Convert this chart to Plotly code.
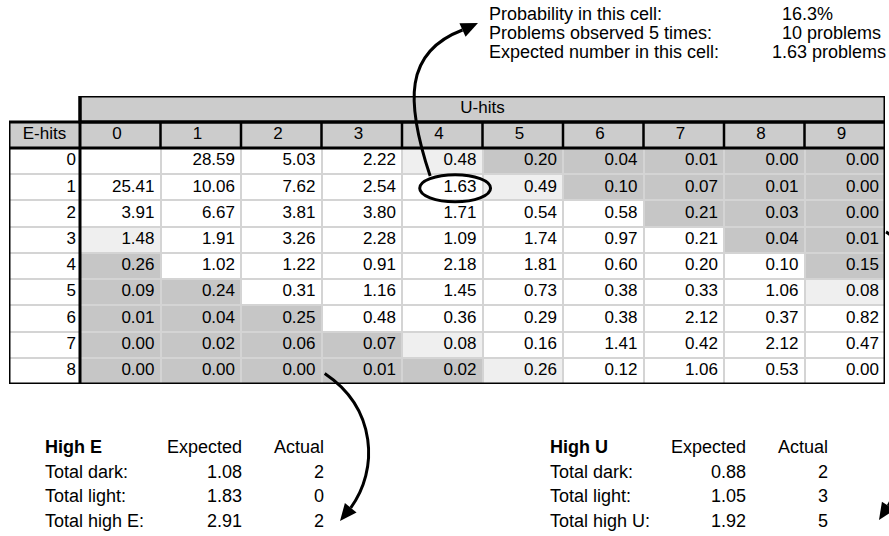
import math
import plotly.graph_objects as go

# ---------------- data ----------------
u_hits = [0, 1, 2, 3, 4, 5, 6, 7, 8, 9]
e_hits = [0, 1, 2, 3, 4, 5, 6, 7, 8]

expected_counts = [
    [None, 28.59, 5.03, 2.22, 0.48, 0.20, 0.04, 0.01, 0.00, 0.00],
    [25.41, 10.06, 7.62, 2.54, 1.63, 0.49, 0.10, 0.07, 0.01, 0.00],
    [3.91, 6.67, 3.81, 3.80, 1.71, 0.54, 0.58, 0.21, 0.03, 0.00],
    [1.48, 1.91, 3.26, 2.28, 1.09, 1.74, 0.97, 0.21, 0.04, 0.01],
    [0.26, 1.02, 1.22, 0.91, 2.18, 1.81, 0.60, 0.20, 0.10, 0.15],
    [0.09, 0.24, 0.31, 1.16, 1.45, 0.73, 0.38, 0.33, 1.06, 0.08],
    [0.01, 0.04, 0.25, 0.48, 0.36, 0.29, 0.38, 2.12, 0.37, 0.82],
    [0.00, 0.02, 0.06, 0.07, 0.08, 0.16, 1.41, 0.42, 2.12, 0.47],
    [0.00, 0.00, 0.00, 0.01, 0.02, 0.26, 0.12, 1.06, 0.53, 0.00],
]

# 0 = plain, 1 = light region, 2 = dark region
cell_class = [
    [0, 0, 0, 0, 1, 2, 2, 2, 2, 2],
    [0, 0, 0, 0, 0, 1, 2, 2, 2, 2],
    [0, 0, 0, 0, 0, 0, 0, 2, 2, 2],
    [1, 0, 0, 0, 0, 0, 0, 0, 2, 2],
    [2, 0, 0, 0, 0, 0, 0, 0, 0, 2],
    [2, 2, 0, 0, 0, 0, 0, 0, 0, 1],
    [2, 2, 2, 0, 0, 0, 0, 0, 0, 0],
    [2, 2, 2, 2, 1, 0, 0, 0, 0, 0],
    [2, 2, 2, 2, 2, 1, 0, 0, 0, 0],
]

callout_labels = ["Probability in this cell:", "Problems observed 5 times:", "Expected number in this cell:"]
callout_values = ["16.3%", "10 problems", "1.63 problems"]

summary_labels_e = ["Total dark:", "Total light:", "Total high E:"]
summary_expected_e = [1.08, 1.83, 2.91]
summary_actual_e = [2, 0, 2]

summary_labels_u = ["Total dark:", "Total light:", "Total high U:"]
summary_expected_u = [0.88, 1.05, 1.92]
summary_actual_u = [2, 3, 5]

# ---------------- layout geometry (pixels) ----------------
W, H = 889, 536
FONT = "Liberation Sans, Arial, Helvetica, sans-serif"
left, div, right = 9, 80, 885
top_u, top_h, top_d, bottom = 96, 122, 148, 384
col_w = (right - div) / len(u_hits)
row_h = (bottom - top_d) / len(e_hits)
x_lo = -0.5 - (div - left) / col_w
x_hi = len(u_hits) - 0.5
y_hi = len(e_hits) - 0.5
y_h = -0.5 - (top_d - top_h) / row_h
y_u = -0.5 - (top_d - top_u) / row_h

GRID = "#d4d4d4"
HEAD = "#cccccc"
LIGHT = "#efefef"
DARK = "#c6c6c6"


def P(x, y):
    """pixel -> paper coords"""
    return x / W, 1 - y / H


def D2px(xd, yd):
    """table data coords -> pixel"""
    return div + (xd + 0.5) * col_w, top_d + (yd + 0.5) * row_h


fig = go.Figure()

fig.add_trace(go.Heatmap(
    x=u_hits, y=e_hits, z=cell_class, zmin=0, zmax=2,
    colorscale=[[0, "#ffffff"], [0.5, LIGHT], [1, DARK]],
    showscale=False, xgap=2, ygap=2, hoverinfo="skip"))

fig.add_trace(go.Heatmap(
    x=[x_lo, -0.5], y=e_hits, z=[[0] for _ in e_hits], zmin=0, zmax=2,
    colorscale=[[0, "#ffffff"], [1, "#ffffff"]],
    showscale=False, xgap=2, ygap=2, hoverinfo="skip"))

tx, ty, tt = [], [], []
for r, row in enumerate(expected_counts):
    for c, v in enumerate(row):
        if v is None:
            continue
        tx.append(u_hits[c] + 0.5 - 6 / col_w)
        ty.append(e_hits[r])
        tt.append(f"{v:.2f}")
fig.add_trace(go.Scatter(x=tx, y=ty, text=tt, mode="text", textposition="middle left",
                         textfont=dict(family=FONT, size=17, color="black"), hoverinfo="skip"))

fig.add_trace(go.Scatter(x=[-0.5 - 4 / col_w] * len(e_hits), y=e_hits, text=[str(e) for e in e_hits],
                         mode="text", textposition="middle left",
                         textfont=dict(family=FONT, size=17, color="black"), hoverinfo="skip"))

y_head = (y_h - 0.5) / 2
fig.add_trace(go.Scatter(x=[u - 0.04 for u in u_hits] + [(x_lo - 0.5) / 2, (u_hits[0] + u_hits[-1]) / 2],
                         y=[y_head] * len(u_hits) + [y_head, (y_u + y_h) / 2],
                         text=[str(u) for u in u_hits] + ["E-hits", "U-hits"],
                         mode="text", textposition="middle center",
                         textfont=dict(family=FONT, size=17, color="black"), hoverinfo="skip"))

shapes = []
shapes.append(dict(type="rect", xref="x", yref="y", x0=x_lo, x1=-0.5, y0=y_u, y1=y_h,
                   fillcolor="white", line=dict(width=0), layer="below"))
shapes.append(dict(type="rect", xref="x", yref="y", x0=-0.5, x1=x_hi, y0=y_u, y1=y_h,
                   fillcolor=HEAD, line=dict(width=0), layer="below"))
shapes.append(dict(type="rect", xref="x", yref="y", x0=x_lo, x1=x_hi, y0=y_h, y1=-0.5,
                   fillcolor=HEAD, line=dict(width=0), layer="below"))
BL = dict(color="black", width=3)
shapes.append(dict(type="rect", xref="x", yref="y", x0=-0.5, x1=x_hi, y0=y_u, y1=y_h, line=BL))
shapes.append(dict(type="line", xref="x", yref="y", x0=x_lo, x1=x_hi, y0=-0.5, y1=-0.5, line=BL))
for k in range(1, len(u_hits)):
    shapes.append(dict(type="line", xref="x", yref="y", x0=k - 0.5, x1=k - 0.5, y0=y_h, y1=-0.5,
                       line=dict(color="black", width=2.5)))
shapes.append(dict(type="line", xref="x", yref="y", x0=-0.5, x1=-0.5, y0=y_u, y1=y_hi, line=BL))
shapes.append(dict(type="rect", xref="x", yref="y", x0=x_lo, x1=x_hi, y0=y_h, y1=y_hi, line=BL))

# ellipse around the highlighted cell (E=1, U=4)
shapes.append(dict(type="circle", xref="x", yref="y", x0=3.72, x1=4.6, y0=0.52, y1=1.55,
                   line=dict(color="black", width=3)))


def curve(p0, p1, p2, p3):
    pts = [P(*p) for p in (p0, p1, p2, p3)]
    return ("M {:.5f},{:.5f} C {:.5f},{:.5f} {:.5f},{:.5f} {:.5f},{:.5f}"
            .format(*[v for pt in pts for v in pt]))


def head(tip, d, L=17, w=7.5):
    n = math.hypot(*d)
    dx, dy = d[0] / n, d[1] / n
    bx, by = tip[0] - L * dx, tip[1] - L * dy
    a = P(*tip)
    b = P(bx - w * dy, by + w * dx)
    c = P(bx + w * dy, by - w * dx)
    return "M {:.5f},{:.5f} L {:.5f},{:.5f} L {:.5f},{:.5f} Z".format(*a, *b, *c), (bx, by)


label_x = 487
callout_y = [14, 33, 52]

s1 = D2px(3.85, 0.57)
s2 = D2px(2.54, 8.1)
s3 = (right + 1, D2px(9, 2.7)[1])
arrow_defs = [
    (s1, (label_x - 9, callout_y[0] + 9), (1, -0.45),
     lambda p0, b: ((p0[0] - 25, p0[1] - 75), (b[0] - 58, b[1] + 22))),
    (s2, (340, 521), (-0.65, 0.8),
     lambda p0, b: ((p0[0] + 52, p0[1] + 35), (b[0] + 28, b[1] - 38))),
    (s3, (879, 520), (-0.55, 0.85),
     lambda p0, b: ((p0[0] + 45, p0[1] + 25), (b[0] + 45, b[1] - 80))),
]
for p0, tip, d, ctrl in arrow_defs:
    hpath, base = head(tip, d)
    c1, c2 = ctrl(p0, base)
    shapes.append(dict(type="path", xref="paper", yref="paper", path=curve(p0, c1, c2, base),
                       line=dict(color="black", width=3)))
    shapes.append(dict(type="path", xref="paper", yref="paper", path=hpath,
                       fillcolor="black", line=dict(width=0)))

annotations = []


def txt(x, y, s, anchor="left", size=18, bold=False):
    px, py = P(x, y)
    annotations.append(dict(x=px, y=py, xref="paper", yref="paper", text=f"<b>{s}</b>" if bold else s,
                            showarrow=False, xanchor=anchor, yanchor="middle",
                            font=dict(family=FONT, size=size, color="black")))


callout_vx = [780, 780, 770]
for lab, val, y, vx in zip(callout_labels, callout_values, callout_y, callout_vx):
    txt(label_x, y, lab)
    txt(vx, y, val)

rows_y = [447, 472, 496, 521]
for lx, ex, ax_, title, labels, exps, acts in [
    (43, 244, 326, "High E", summary_labels_e, summary_expected_e, summary_actual_e),
    (548, 748, 830, "High U", summary_labels_u, summary_expected_u, summary_actual_u),
]:
    txt(lx, rows_y[0], title, bold=True)
    txt(ex, rows_y[0], "Expected", anchor="right")
    txt(ax_, rows_y[0], "Actual", anchor="right")
    for lab, e, a, y in zip(labels, exps, acts, rows_y[1:]):
        txt(lx, y, lab)
        txt(ex, y, f"{e:.2f}", anchor="right")
        txt(ax_, y, str(a), anchor="right")

fig.update_layout(
    width=W, height=H, margin=dict(l=0, r=0, t=0, b=0, pad=0),
    paper_bgcolor="white", plot_bgcolor=GRID, showlegend=False,
    shapes=shapes, annotations=annotations,
    xaxis=dict(range=[x_lo, x_hi], domain=[left / W, right / W], visible=False, fixedrange=True),
    yaxis=dict(range=[y_hi, y_u], domain=[1 - bottom / H, 1 - top_u / H],
               visible=False, fixedrange=True),
)

# the page is exactly the size of the figure: drop the default body margin
fig.write_html("out.html", config={"displayModeBar": False},
               post_script="document.body.style.margin='0';document.body.style.overflow='hidden';")
